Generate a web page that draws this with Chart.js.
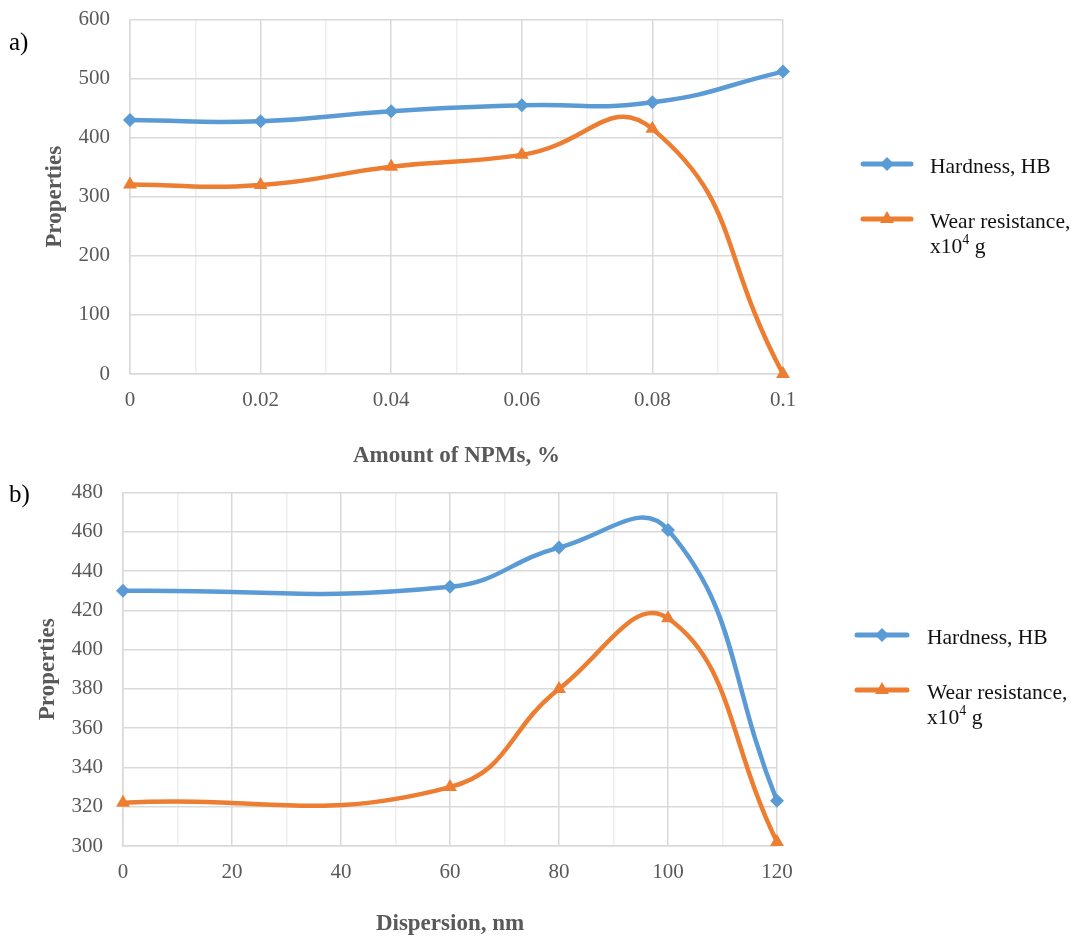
<!DOCTYPE html>
<html>
<head>
<meta charset="utf-8">
<script src="https://cdn.jsdelivr.net/npm/chart.js@4.4.1/dist/chart.umd.min.js"></script>
<style>
  html, body { margin: 0; padding: 0; background: #fff; overflow: hidden; }
  #wrapA { position: absolute; left: 0; top: -13px; width: 1073px; height: 483px; }
  #wrapB { position: absolute; left: 0; top: 460px; width: 1073px; height: 478px; }
</style>
</head>
<body>
<div id="wrapA"><canvas id="chartA"></canvas></div>
<div id="wrapB"><canvas id="chartB"></canvas></div>
<script>
// a) properties vs amount of NPMs
const npmAmount = [0, 0.02, 0.04, 0.06, 0.08, 0.1];
const hardnessByAmount = [430, 428, 445, 455, 460, 512];
const wearByAmount = [321, 320, 351, 371, 415, 0];

// b) properties vs dispersion
const dispersion = [0, 60, 80, 100, 120];
const hardnessByDispersion = [430, 432, 452, 461, 323];
const wearByDispersion = [322, 330, 380, 416, 302];

const legendText = [['Hardness, HB'], ['Wear resistance,', 'x10^4 g']];

const SERIF = '"Liberation Serif", "Times New Roman", serif';
const BLUE = '#5B9BD5';
const ORANGE = '#ED7D31';

const toPoints = (xs, ys) => xs.map((x, i) => ({ x: x, y: ys[i] }));

// draws "x10^4 g" style text with a raised small digit
function drawRich(ctx, text, x, y, size) {
  const parts = text.split(/\^(\d)/);
  let cx = x;
  parts.forEach((p, i) => {
    if (!p) return;
    const sup = i % 2 === 1;
    ctx.font = (sup ? Math.round(size * 0.65) : size) + 'px ' + SERIF;
    ctx.fillText(p, cx, sup ? y - size * 0.3 : y);
    cx += ctx.measureText(p).width;
  });
}

const sideLegend = {
  id: 'sideLegend',
  afterDraw(chart, args, opts) {
    const ctx = chart.ctx;
    ctx.save();
    chart.data.datasets.forEach((ds, i) => {
      const y = opts.rowY[i];
      ctx.strokeStyle = ds.borderColor;
      ctx.lineWidth = 5;
      ctx.lineCap = 'round';
      ctx.beginPath();
      ctx.moveTo(opts.lineX[0], y);
      ctx.lineTo(opts.lineX[1], y);
      ctx.stroke();
      ctx.fillStyle = ds.backgroundColor;
      Chart.helpers.drawPoint(ctx, { pointStyle: ds.pointStyle, radius: ds.pointRadius, rotation: 0, borderWidth: 0 },
        (opts.lineX[0] + opts.lineX[1]) / 2, y);
      ctx.fillStyle = '#111';
      ctx.textBaseline = 'middle';
      ctx.textAlign = 'left';
      legendText[i].forEach((line, k) => drawRich(ctx, line, opts.textX, y + 3 + k * 25, 21.5));
    });
    // panel letter
    ctx.fillStyle = '#000';
    ctx.font = '25px ' + SERIF;
    ctx.textBaseline = 'middle';
    ctx.fillText(opts.panel, 9, opts.panelY);
    ctx.restore();
  }
};

function gridColor(c) { return c.index % 2 === 0 ? '#d9d9d9' : '#eeeeee'; }

function makeChart(id, xs, s1, s2, cfg) {
  return new Chart(document.getElementById(id), {
    type: 'line',
    data: {
      datasets: [
        {
          label: legendText[0][0],
          data: toPoints(xs, s1),
          borderColor: BLUE, backgroundColor: BLUE,
          borderWidth: 4.5, pointStyle: 'rectRot', pointRadius: 7, pointHoverRadius: 7,
          pointBorderWidth: 0, tension: cfg.tension, clip: false
        },
        {
          label: legendText[1].join(' '),
          data: toPoints(xs, s2),
          borderColor: ORANGE, backgroundColor: ORANGE,
          borderWidth: 4.5, pointStyle: 'triangle', pointRadius: 8, pointHoverRadius: 8,
          pointBorderWidth: 0, tension: cfg.tension, clip: false
        }
      ]
    },
    options: {
      responsive: true,
      maintainAspectRatio: false,
      animation: false,
      layout: { padding: cfg.padding },
      plugins: {
        legend: { display: false },
        tooltip: { enabled: false },
        sideLegend: cfg.legend
      },
      scales: {
        x: {
          type: 'linear',
          min: cfg.xMin, max: cfg.xMax,
          afterFit(s) { s.height = cfg.xHeight; },
          grid: { color: gridColor, lineWidth: 1.5, drawTicks: false },
          border: { color: '#d9d9d9', width: 1.5 },
          ticks: {
            stepSize: cfg.xStep, autoSkip: false, maxRotation: 0, padding: 14,
            color: '#595959', font: { family: SERIF, size: 21 },
            callback: (v, i) => i % 2 === 0 ? String(+v.toFixed(2)) : ''
          },
          title: {
            display: true, text: cfg.xTitle, color: '#595959',
            font: { family: SERIF, size: 23, weight: 'bold' }, padding: 0
          }
        },
        y: {
          min: cfg.yMin, max: cfg.yMax,
          afterFit(s) { s.width = cfg.yWidth; },
          grid: { color: '#d9d9d9', lineWidth: 1.5, drawTicks: false },
          border: { color: '#d9d9d9', width: 1.5 },
          ticks: {
            stepSize: cfg.yStep, padding: 20,
            color: '#595959', font: { family: SERIF, size: 21 }
          },
          title: {
            display: true, text: 'Properties', color: '#595959',
            font: { family: SERIF, size: 23, weight: 'bold' }, padding: 0
          }
        }
      }
    },
    plugins: [sideLegend]
  });
}

makeChart('chartA', npmAmount, hardnessByAmount, wearByAmount, {
  padding: { left: 41, top: 7, right: 290, bottom: 0 },
  xMin: 0, xMax: 0.1, xStep: 0.01, xHeight: 96, xTitle: 'Amount of NPMs, %',
  yMin: 0, yMax: 600, yStep: 100, yWidth: 89, tension: 0.5,
  legend: { lineX: [863, 911], textX: 930, rowY: [177, 232], panel: 'a)', panelY: 56 }
});

makeChart('chartB', dispersion, hardnessByDispersion, wearByDispersion, {
  padding: { left: 34, top: 10, right: 296, bottom: 0 },
  xMin: 0, xMax: 120, xStep: 10, xHeight: 92, xTitle: 'Dispersion, nm',
  yMin: 300, yMax: 480, yStep: 20, yWidth: 89, tension: 0.45,
  legend: { lineX: [857, 907], textX: 927, rowY: [175, 230], panel: 'b)', panelY: 35 }
});
</script>
</body>
</html>
